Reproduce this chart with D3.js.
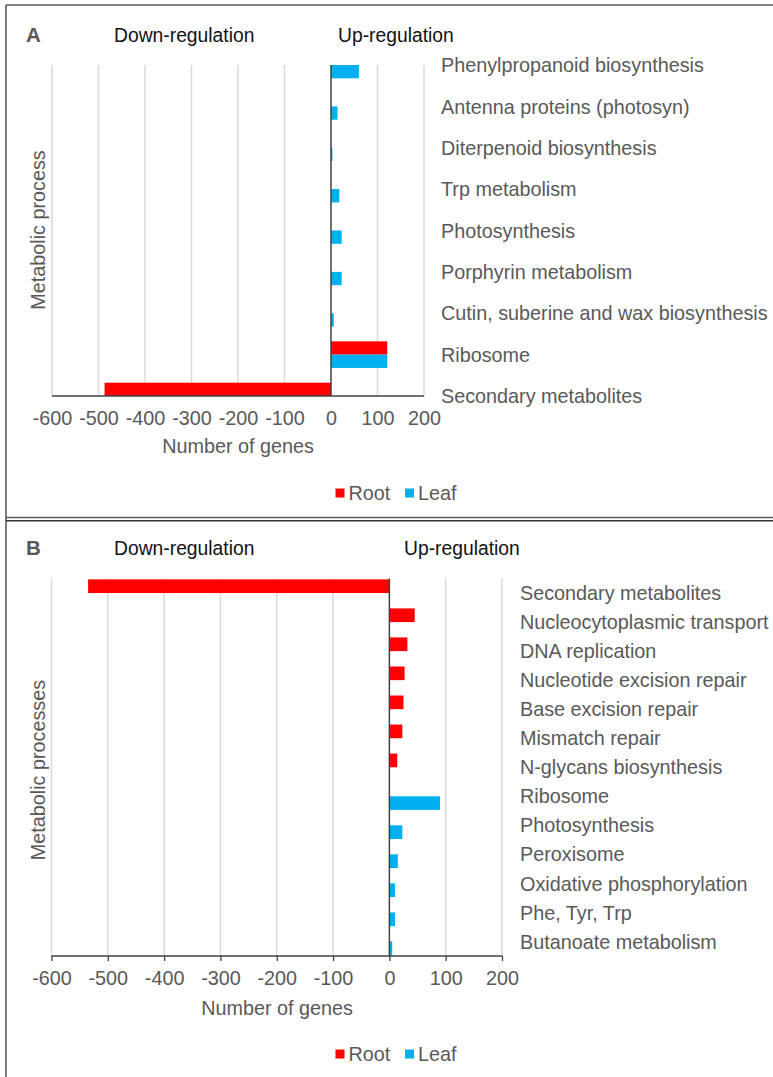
<!DOCTYPE html>
<html>
<head>
<meta charset="utf-8">
<script src="https://cdn.jsdelivr.net/npm/d3@7/dist/d3.min.js"></script>
<style>
  html, body { margin: 0; padding: 0; background: #fff; }
  svg { display: block; font-family: "Liberation Sans", Arial, sans-serif; }
</style>
</head>
<body>
<svg id="fig" width="773" height="1077"></svg>
<script>
// ---- Panel A data ----
const categoriesA = [
  "Phenylpropanoid biosynthesis",
  "Antenna proteins (photosyn)",
  "Diterpenoid biosynthesis",
  "Trp metabolism",
  "Photosynthesis",
  "Porphyrin metabolism",
  "Cutin, suberine and wax biosynthesis",
  "Ribosome",
  "Secondary metabolites"
];
const rootA = [0, 0, 0, 0, 0, 0, 0, 121, -487];
const leafA = [60, 14, 3, 18, 23, 23, 6, 121, 0];

// ---- Panel B data ----
const categoriesB = [
  "Secondary metabolites",
  "Nucleocytoplasmic transport",
  "DNA replication",
  "Nucleotide excision repair",
  "Base excision repair",
  "Mismatch repair",
  "N-glycans biosynthesis",
  "Ribosome",
  "Photosynthesis",
  "Peroxisome",
  "Oxidative phosphorylation",
  "Phe, Tyr, Trp",
  "Butanoate metabolism"
];
const rootB = [-535, 45, 32, 27, 25, 23, 14, 0, 0, 0, 0, 0, 0];
const leafB = [0, 0, 0, 0, 0, 0, 0, 90, 23, 15, 10, 10, 5];

// ---- shared axis ----
const tickValues = [-600, -500, -400, -300, -200, -100, 0, 100, 200];
const seriesNames = ["Root", "Leaf"];
const seriesColors = ["#FF0000", "#00B0F0"];

const svg = d3.select("#fig");
const GRID = "#d9d9d9", AXIS = "#404040", LABEL = "#595959";
const FS = 19.8;

// frame lines
const frame = svg.append("g").attr("stroke", "#5a5a5a").attr("stroke-width", 1.6);
frame.append("line").attr("x1", 6).attr("x2", 6).attr("y1", 5).attr("y2", 1077);
frame.append("line").attr("x1", 6).attr("x2", 773).attr("y1", 5).attr("y2", 5);
frame.append("line").attr("x1", 6).attr("x2", 773).attr("y1", 517.5).attr("y2", 517.5);
frame.append("line").attr("x1", 6).attr("x2", 773).attr("y1", 520.8).attr("y2", 520.8).attr("stroke", "#333");

function drawPanel(cfg) {
  const g = svg.append("g");
  const x = d3.scaleLinear().domain([-600, 200]).range(cfg.xRange);
  const [top, bottom] = cfg.yRange;

  let center, barH;
  if (cfg.point) {
    const y = d3.scalePoint().domain(cfg.cats).range([top, bottom]);
    center = c => y(c);
    barH = cfg.barH;
  } else {
    const y = d3.scaleBand().domain(cfg.cats).range([top, bottom]);
    center = c => y(c) + y.bandwidth() / 2;
    barH = y.bandwidth() * 0.47;
  }

  // gridlines
  g.append("g").selectAll("line").data(tickValues.filter(t => t !== 0)).join("line")
    .attr("x1", d => x(d)).attr("x2", d => x(d))
    .attr("y1", top).attr("y2", bottom)
    .attr("stroke", GRID).attr("stroke-width", 1.5);

  // bars: root above the category centre, leaf below it
  const rows = cfg.cats.map((c, i) => ({ c, root: cfg.root[i], leaf: cfg.leaf[i] }));
  const bars = g.append("g");
  bars.selectAll("rect.root").data(rows.filter(d => d.root !== 0)).join("rect")
    .attr("class", "root")
    .attr("x", d => x(Math.min(0, d.root)))
    .attr("width", d => Math.abs(x(d.root) - x(0)))
    .attr("y", d => center(d.c) - barH)
    .attr("height", barH)
    .attr("fill", seriesColors[0]);
  bars.selectAll("rect.leaf").data(rows.filter(d => d.leaf !== 0)).join("rect")
    .attr("class", "leaf")
    .attr("x", d => x(Math.min(0, d.leaf)))
    .attr("width", d => Math.abs(x(d.leaf) - x(0)))
    .attr("y", d => center(d.c))
    .attr("height", barH)
    .attr("fill", seriesColors[1]);

  // zero line
  g.append("line").attr("x1", x(0)).attr("x2", x(0)).attr("y1", top).attr("y2", bottom)
    .attr("stroke", AXIS).attr("stroke-width", 1.5);

  // x axis
  const axis = d3.axisBottom(x).tickValues(tickValues).tickSize(cfg.tickSize).tickPadding(cfg.tickPad).tickFormat(d3.format("d"));
  const ax = g.append("g").attr("transform", `translate(0,${bottom})`).call(axis);
  ax.select(".domain").attr("stroke", AXIS).attr("stroke-width", 1.5)
    .attr("d", `M${x(-600)},0H${x(200)}`);
  ax.selectAll(".tick line").attr("stroke", AXIS).attr("stroke-width", 1.3);
  ax.selectAll(".tick text").attr("fill", LABEL).attr("font-size", FS)
    .attr("font-family", "Liberation Sans, Arial, sans-serif").text(d => d < 0 ? "-" + Math.abs(d) : d);

  // category labels
  g.append("g").selectAll("text").data(cfg.cats).join("text")
    .attr("x", cfg.labelX).attr("y", d => center(d)).attr("dy", "0.36em")
    .attr("fill", LABEL).attr("font-size", FS).text(d => d);

  // axis titles
  g.append("text").attr("x", cfg.xTitle[0]).attr("y", cfg.xTitle[1]).attr("dy", "0.36em")
    .attr("text-anchor", "middle").attr("fill", LABEL).attr("font-size", FS).text("Number of genes");
  g.append("text").attr("transform", `translate(${cfg.yTitle[0]},${cfg.yTitle[1]}) rotate(-90)`)
    .attr("dy", "0.36em").attr("text-anchor", "middle").attr("fill", LABEL).attr("font-size", FS)
    .text(cfg.yTitleText);

  // panel letter and headers
  g.append("text").attr("x", 26).attr("y", cfg.headY).attr("fill", LABEL).attr("font-weight", "bold")
    .attr("font-size", 20.5).text(cfg.letter);
  g.append("text").attr("x", 114).attr("y", cfg.headY).attr("fill", "#111").attr("font-size", 19.3).text("Down-regulation");
  g.append("text").attr("x", cfg.upX).attr("y", cfg.headY).attr("fill", "#111").attr("font-size", 19.3).text("Up-regulation");

  // legend
  const lg = g.append("g").attr("transform", `translate(0,${cfg.legendY})`);
  const items = [{ name: seriesNames[0], col: seriesColors[0], x: 335.5 }, { name: seriesNames[1], col: seriesColors[1], x: 405 }];
  items.forEach(it => {
    lg.append("rect").attr("x", it.x).attr("y", -4.5).attr("width", 9).attr("height", 9).attr("fill", it.col);
    lg.append("text").attr("x", it.x + 13).attr("y", 0).attr("dy", "0.36em").attr("fill", LABEL)
      .attr("font-size", FS).text(it.name);
  });
}

drawPanel({
  letter: "A", cats: categoriesA, root: rootA, leaf: leafA,
  xRange: [52, 424], yRange: [65, 396], point: true, barH: 13.3,
  tickSize: 0, tickPad: 15, labelX: 441,
  xTitle: [238, 446], yTitle: [38, 230], yTitleText: "Metabolic process",
  headY: 42, upX: 338, legendY: 493
});

drawPanel({
  letter: "B", cats: categoriesB, root: rootB, leaf: leafB,
  xRange: [51.5, 502], yRange: [578.5, 956], point: false,
  tickSize: 5, tickPad: 10, labelX: 520,
  xTitle: [277, 1008], yTitle: [38, 770], yTitleText: "Metabolic processes",
  headY: 555, upX: 404, legendY: 1054
});
</script>
</body>
</html>
